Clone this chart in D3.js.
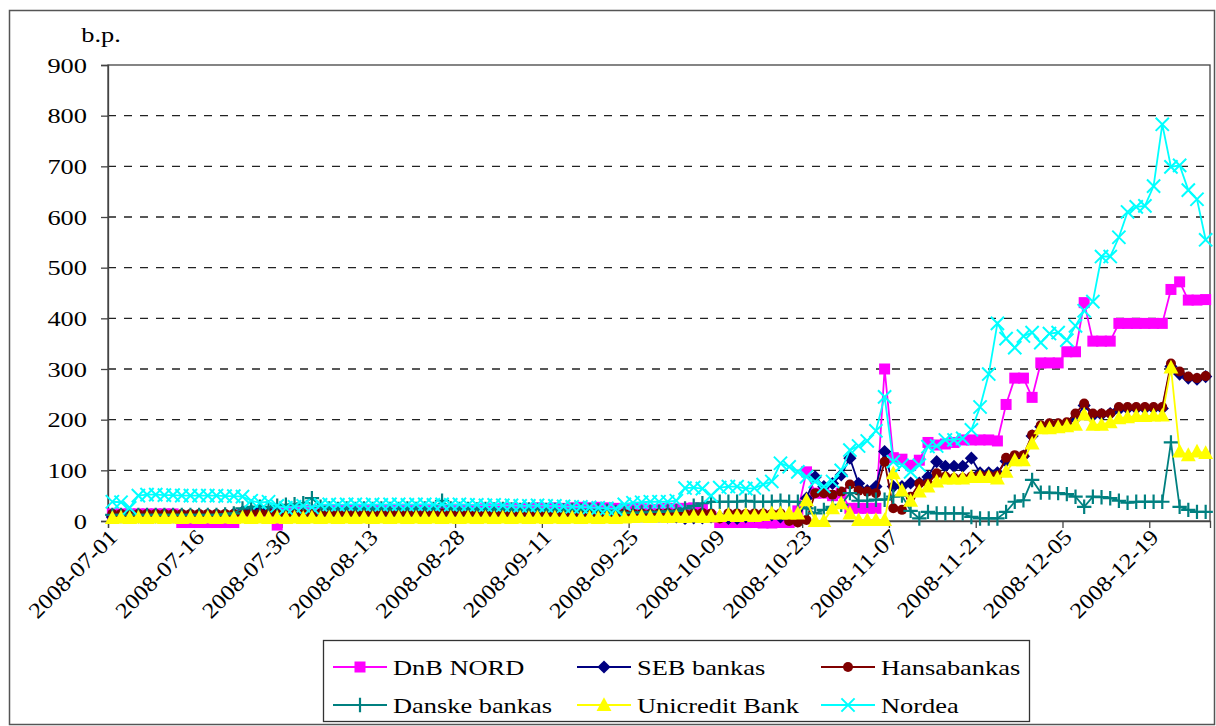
<!DOCTYPE html>
<html><head><meta charset="utf-8">
<script src="https://cdn.jsdelivr.net/npm/d3@7"></script>
<style>body{margin:0;background:#fff}</style>
</head><body><svg id="c" width="1216" height="726" font-family="'Liberation Serif','Tinos','DejaVu Serif','Noto Serif','Times New Roman',serif"></svg>
<script>
const FONT = "'Liberation Serif','Tinos','DejaVu Serif','Noto Serif','Times New Roman',serif";
const dates = [
"2008-07-01","2008-07-02","2008-07-03","2008-07-07","2008-07-08","2008-07-09","2008-07-10","2008-07-11","2008-07-14","2008-07-15",
"2008-07-16","2008-07-17","2008-07-18","2008-07-21","2008-07-22","2008-07-23","2008-07-24","2008-07-25","2008-07-28","2008-07-29",
"2008-07-30","2008-07-31","2008-08-01","2008-08-04","2008-08-05","2008-08-06","2008-08-07","2008-08-08","2008-08-11","2008-08-12",
"2008-08-13","2008-08-14","2008-08-15","2008-08-18","2008-08-19","2008-08-20","2008-08-21","2008-08-22","2008-08-26","2008-08-27",
"2008-08-28","2008-08-29","2008-09-01","2008-09-02","2008-09-03","2008-09-04","2008-09-05","2008-09-08","2008-09-09","2008-09-10",
"2008-09-11","2008-09-12","2008-09-15","2008-09-16","2008-09-17","2008-09-18","2008-09-19","2008-09-22","2008-09-23","2008-09-24",
"2008-09-25","2008-09-26","2008-09-29","2008-09-30","2008-10-01","2008-10-02","2008-10-03","2008-10-06","2008-10-07","2008-10-08",
"2008-10-09","2008-10-10","2008-10-13","2008-10-14","2008-10-15","2008-10-16","2008-10-17","2008-10-20","2008-10-21","2008-10-22",
"2008-10-23","2008-10-24","2008-10-27","2008-10-28","2008-10-29","2008-10-30","2008-10-31","2008-11-04","2008-11-05","2008-11-06",
"2008-11-07","2008-11-10","2008-11-11","2008-11-12","2008-11-13","2008-11-14","2008-11-17","2008-11-18","2008-11-19","2008-11-20",
"2008-11-21","2008-11-24","2008-11-25","2008-11-26","2008-11-27","2008-11-28","2008-12-01","2008-12-02","2008-12-03","2008-12-04",
"2008-12-05","2008-12-08","2008-12-09","2008-12-10","2008-12-11","2008-12-12","2008-12-15","2008-12-16","2008-12-17","2008-12-18",
"2008-12-19","2008-12-22","2008-12-23","2008-12-24","2008-12-29","2008-12-30","2008-12-31"];

const dnbNord = [
14,14,14,14,14,14,14,14,-3,-3,
-3,-3,-3,-3,-3,15,15,16,15,-8,
18,20,20,21,20,22,21,22,22,23,
22,23,22,23,23,22,23,23,22,23,
23,22,23,24,23,24,25,24,25,26,
25,26,25,26,27,26,27,26,25,24,
25,24,22,23,25,24,25,26,25,8,
-3,-3,-3,-3,-3,-4,-4,-3,-3,20,
97,55,55,50,55,25,25,25,25,300,
125,122,110,120,155,150,152,155,160,160,
160,160,158,230,282,282,244,312,312,312,
334,334,431,355,355,355,390,390,390,390,
390,390,457,472,436,436,437];

const sebBankas = [
8,8,8,8,8,8,8,8,8,8,
8,8,10,12,14,18,20,22,18,15,
12,12,12,12,12,13,12,12,13,12,
12,12,13,12,12,12,13,12,12,12,
12,12,12,13,12,12,12,12,13,12,
12,12,12,12,12,11,12,12,12,12,
12,11,10,10,8,8,5,6,6,8,
8,5,5,8,10,12,12,8,5,0,
45,87,68,74,91,124,74,60,68,137,
68,68,75,75,87,117,108,108,108,124,
95,95,95,118,125,128,168,186,190,190,
190,202,228,208,210,212,220,222,222,222,
222,222,305,290,282,280,285];

const hansabankas = [
14,14,14,14,14,14,14,14,14,14,
14,14,14,14,14,15,15,15,15,14,
14,14,15,15,15,15,15,15,15,15,
15,15,15,15,15,15,15,15,15,15,
15,15,15,15,15,15,15,15,15,15,
15,15,15,15,15,15,15,15,15,15,
15,15,14,15,16,15,14,15,16,15,
5,15,15,14,15,15,14,15,0,-3,
2,55,55,52,58,72,60,58,55,117,
25,22,48,74,74,94,88,85,85,88,
90,90,90,125,130,130,170,189,193,193,
195,212,232,212,212,212,225,225,225,225,
225,225,311,295,285,282,286];

const danskeBankas = [
12,12,12,12,12,12,12,12,12,12,
12,12,12,13,15,25,28,28,27,30,
32,33,35,45,28,25,24,25,24,25,
24,25,24,24,25,24,25,24,40,25,
24,24,23,24,23,24,23,22,23,22,
22,22,21,22,21,22,21,20,18,16,
16,17,18,18,19,20,25,30,35,38,
38,38,38,40,38,38,38,40,38,38,
25,15,22,28,32,55,40,40,42,42,
48,50,20,5,18,15,15,15,15,8,
5,5,5,18,38,41,81,56,56,55,
53,48,28,48,47,45,40,36,38,38,
38,38,155,28,22,18,18];

const unicreditBank = [
6,7,6,7,6,7,6,7,6,7,
6,7,6,7,6,7,6,7,6,7,
6,7,6,7,6,7,6,7,6,7,
6,7,6,7,6,7,6,7,6,7,
6,7,6,7,6,7,6,7,6,7,
6,7,6,7,6,7,6,7,6,7,
8,9,8,9,8,9,8,9,8,9,
10,12,10,12,10,12,15,15,15,15,
41,0,0,25,35,15,2,2,2,2,
94,60,40,58,68,78,84,84,84,87,
87,87,84,97,120,120,153,183,183,185,
187,190,210,190,190,195,203,205,207,207,
208,208,303,137,130,137,134];

const nordea = [
38,37,26,50,52,52,51,51,50,50,
50,50,50,49,49,48,40,36,38,30,
26,28,30,27,32,33,32,33,33,32,
33,32,33,33,32,33,33,32,33,32,
33,32,32,31,32,31,31,30,30,31,
30,30,29,28,28,27,26,25,24,33,
36,37,38,38,38,40,65,66,64,50,
66,68,68,64,65,72,78,114,107,97,
87,78,68,78,100,140,148,158,178,245,
117,110,97,110,147,148,160,160,163,180,
225,290,390,360,342,365,372,352,370,372,
357,385,415,433,522,522,560,610,620,622,
661,783,699,702,653,635,555];

const yTicks = [0,100,200,300,400,500,600,700,800,900];
const xTickEvery = 10;
const seriesNames = ["DnB NORD","SEB bankas","Hansabankas","Danske bankas","Unicredit Bank","Nordea"];
const seriesData = [dnbNord, sebBankas, hansabankas, danskeBankas, unicreditBank, nordea];
const colors = ["#FF00FF","#000080","#800000","#008080","#FFFF00","#00FFFF"];
const markers = ["square","diamond","circle","plus","triangle","x"];

const SX = 1.2; // horizontal stretch of the original picture's text
const svg = d3.select("#c");
const L = 108, R = 1210, T = 65, B = 521;
const x = d3.scaleLinear().domain([0, dates.length]).range([L, R]);
const y = d3.scaleLinear().domain([0, 900]).range([B, T]);

svg.append("rect").attr("x", 9.5).attr("y", 10.5).attr("width", 1205).attr("height", 714)
  .attr("fill", "none").attr("stroke", "#555").attr("stroke-width", 1.5);

svg.append("g").selectAll("line").data(yTicks.filter(v => v > 0 && v < 900)).join("line")
  .attr("x1", L).attr("x2", R).attr("y1", d => y(d)).attr("y2", d => y(d))
  .attr("stroke", "#222").attr("stroke-width", 1.3).attr("stroke-dasharray", "8,8");

svg.append("rect").attr("x", L).attr("y", T).attr("width", R - L).attr("height", B - T)
  .attr("fill", "none").attr("stroke", "#444").attr("stroke-width", 1.3);

const yAxis = d3.axisLeft(y).tickValues(yTicks).tickSize(7);
const gy = svg.append("g").attr("transform", `translate(${L},0)`).call(yAxis);
gy.attr("font-family", FONT);
gy.select(".domain").attr("stroke", "#444").attr("stroke-width", 1.3);
gy.selectAll(".tick line").attr("stroke", "#444").attr("stroke-width", 1.3);
gy.selectAll(".tick text").attr("x", -21 / SX).attr("transform", `scale(${SX},1)`)
  .attr("fill", "#000").style("font-size", "22px");

svg.append("text").attr("transform", `translate(101,42) scale(${SX},1)`).attr("text-anchor", "middle")
  .style("font-size", "22px").text("b.p.");

const xTickIdx = d3.range(0, dates.length, xTickEvery);
const xAxis = d3.axisBottom(x).tickValues(xTickIdx).tickSize(7).tickFormat(() => "");
const gx = svg.append("g").attr("transform", `translate(0,${B})`).call(xAxis);
gx.select(".domain").attr("stroke", "#444").attr("stroke-width", 1.3);
gx.selectAll(".tick line").attr("stroke", "#444").attr("stroke-width", 1.3);

svg.append("g").selectAll("text").data(xTickIdx).join("text")
  .attr("transform", d => `translate(${x(d + 0.5) + 1},${B + 12}) rotate(-45) scale(1.12,1)`)
  .attr("text-anchor", "end").attr("dy", "0.35em")
  .style("font-size", "22px").text(d => dates[d]);

function drawMarker(g, type, color, s) {
  if (type === "square") {
    g.append("rect").attr("x", -s/2).attr("y", -s/2).attr("width", s).attr("height", s).attr("fill", color);
  } else if (type === "diamond") {
    g.append("path").attr("d", `M0,${-s*0.6}L${s*0.6},0L0,${s*0.6}L${-s*0.6},0Z`).attr("fill", color);
  } else if (type === "circle") {
    g.append("circle").attr("r", s*0.5).attr("fill", color);
  } else if (type === "triangle") {
    g.append("path").attr("d", `M0,${-s*0.65}L${s*0.62},${s*0.5}L${-s*0.62},${s*0.5}Z`).attr("fill", color);
  } else if (type === "plus") {
    g.append("path").attr("d", `M${-s*0.6},0H${s*0.6}M0,${-s*0.6}V${s*0.6}`).attr("stroke", color).attr("stroke-width", 2.2);
  } else if (type === "x") {
    g.append("path").attr("d", `M${-s*0.55},${-s*0.55}L${s*0.55},${s*0.55}M${-s*0.55},${s*0.55}L${s*0.55},${-s*0.55}`)
      .attr("stroke", color).attr("stroke-width", 2);
  }
}
const markerSize = [11, 11, 10, 12, 12, 12];

const line = d3.line().x((d, i) => x(i + 0.5)).y(d => y(d));
const plot = svg.append("g");
seriesData.forEach((vals, si) => {
  const g = plot.append("g");
  g.append("path").datum(vals).attr("d", line).attr("fill", "none")
    .attr("stroke", colors[si]).attr("stroke-width", 1.8);
  vals.forEach((v, i) => {
    const m = g.append("g").attr("transform", `translate(${x(i + 0.5)},${y(v)})`);
    drawMarker(m, markers[si], colors[si], markerSize[si]);
  });
});

const lg = svg.append("g");
lg.append("rect").attr("x", 323.5).attr("y", 640.5).attr("width", 706).attr("height", 81)
  .attr("fill", "#fff").attr("stroke", "#333").attr("stroke-width", 1.3);
const colX = [333, 577, 821];
const rowY = [667, 705];
seriesNames.forEach((name, i) => {
  const cx = colX[i % 3], cy = rowY[Math.floor(i / 3)];
  const g = lg.append("g").attr("transform", `translate(${cx},${cy})`);
  g.append("line").attr("x1", 0).attr("x2", 54).attr("stroke", colors[i]).attr("stroke-width", 2);
  const m = g.append("g").attr("transform", "translate(27,0)");
  drawMarker(m, markers[i], colors[i], markerSize[i]);
  g.append("text").attr("transform", `translate(60,0) scale(${SX},1)`).attr("dy", "0.35em")
    .style("font-size", "22px").text(name);
});
</script></body></html>
